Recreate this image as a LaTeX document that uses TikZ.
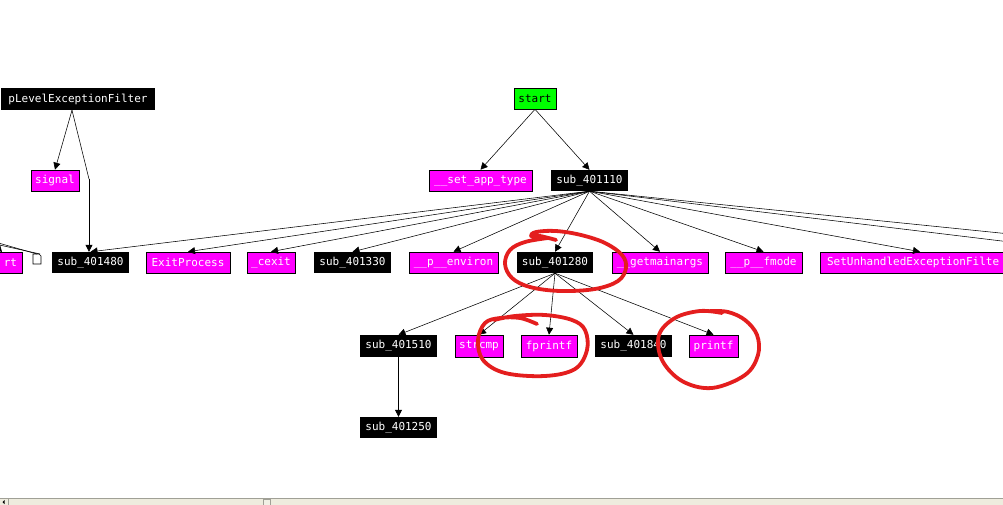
\documentclass[tikz,border=0pt]{standalone}
\usepackage{fontspec}
\newfontfamily\idafont{DejaVu Sans Mono}
\usetikzlibrary{arrows.meta}
\definecolor{idamag}{RGB}{255,0,255}
\definecolor{idagrn}{RGB}{0,255,0}
\definecolor{annot}{RGB}{228,30,30}
\definecolor{sbfill}{RGB}{238,236,222}
\definecolor{sbline}{RGB}{160,160,150}
\tikzset{
  fbox/.style={rectangle, inner sep=0pt, minimum height=21pt, font=\idafont\fontsize{11}{12}\selectfont},
  blk/.style={fbox, fill=black, text=white},
  mag/.style={fbox, fill=idamag, draw=black, line width=0.6pt, text=white},
  grn/.style={fbox, fill=idagrn, draw=black, line width=0.6pt, text=black},
  edge/.style={draw=black, line width=0.55pt, -{Triangle[length=7pt,width=7pt]}},
  plain/.style={draw=black, line width=0.55pt},
  redmark/.style={draw=annot, line width=3.8pt, line cap=round, line join=round},
}
\begin{document}
\begin{tikzpicture}[x=1pt,y=-1pt]
\useasboundingbox (0,0) rectangle (1003,505);
\clip (0,0) rectangle (1003,505);
\fill[white] (0,0) rectangle (1003,505);

% nodes
\node[blk, minimum width=154pt, minimum height=22pt] (plev) at (78,99) {pLevelExceptionFilter};
\node[mag, minimum width=48pt] (signal) at (55,180.5) {signal};
\node[grn, minimum width=42pt] (start) at (535,98.5) {start};
\node[mag, minimum width=103pt] (sat) at (480.5,180.5) {\_\_set\_app\_type};
\node[blk, minimum width=77pt] (s110) at (589.5,180.5) {sub\_401110};

\node[mag, minimum width=30pt, text width=20pt, align=right] (rt) at (7,262.5) {rt};
\node[blk, minimum width=77pt] (s480) at (90.5,262.5) {sub\_401480};
\node[mag, minimum width=84pt] (exitp) at (188,262.5) {ExitProcess};
\node[mag, minimum width=48pt] (cexit) at (271,262.5) {\_cexit};
\node[blk, minimum width=77pt] (s330) at (352.5,262.5) {sub\_401330};
\node[mag, minimum width=89pt] (env) at (453.5,262.5) {\_\_p\_\_environ};
\node[blk, minimum width=76pt] (s280) at (555,262.5) {sub\_401280};
\node[mag, minimum width=96pt] (gma) at (660,262.5) {\_\_getmainargs};
\node[mag, minimum width=77pt] (fmode) at (763.5,262.5) {\_\_p\_\_fmode};
\node[mag, minimum width=200pt, text width=186pt, align=left] (sef) at (920,262.5) {SetUnhandledExceptionFilte};

\node[blk, minimum width=77pt, minimum height=22pt] (s510) at (398.5,346) {sub\_401510};
\node[mag, minimum width=48pt, minimum height=22pt] (strcmp) at (479,346) {strcmp};
\node[mag, minimum width=56pt, minimum height=22pt] (fprintf) at (549,346) {fprintf};
\node[blk, minimum width=77pt, minimum height=22pt] (s840) at (633.5,346) {sub\_401840};
\node[mag, minimum width=49pt, minimum height=22pt] (printf) at (713.5,346) {printf};
\node[blk, minimum width=77pt] (s250) at (398.5,427.5) {sub\_401250};

% small document icon
\draw[black, fill=white, line width=0.55pt] (33,254) -- (39,254) -- (41,256) -- (41,264) -- (33,264) -- cycle;
\coordinate (doc) at (37,254);

% coordinates for free ends
\coordinate (bend) at (89,179);
\coordinate (offR1) at (1010,234);
\coordinate (offR2) at (1010,242);
\coordinate (offL1) at (-5,242);
\coordinate (offL2) at (-5,244);

% edges
\draw[edge] ([xshift=-6pt]plev.south) -- (signal.north);
\draw[plain] ([xshift=-6pt]plev.south) -- (bend);
\draw[edge] (bend) -- (s480.north -| bend);
\draw[edge] (start.south) -- (sat.north);
\draw[edge] (start.south) -- (s110.north);

\foreach \t in {s480,exitp,cexit,s330,env,s280,gma,fmode,sef}
  \draw[edge] (s110.south) -- (\t.north);
\draw[plain] (s110.south) -- (offR1);
\draw[plain] (s110.south) -- (offR2);

\draw[plain] (offL1) -- (doc);
\draw[plain] (offL2) -- (40,254);
\draw[edge] (-8,241) -- (2,252);

\foreach \t in {s510,strcmp,fprintf,s840,printf}
  \draw[edge] (s280.south) -- (\t.north);
\draw[edge] (s510.south) -- (s250.north);

% red hand-drawn annotations
\draw[redmark] plot[smooth, tension=0.6] coordinates {(556,240) (540,236) (531,236) (536,232) (556,231) (581,235) (605,243) (622,255) (626,268) (618,281) (595,289) (560,291) (530,287) (512,278) (505,264) (510,250) (525,242) (548,238)};
\draw[redmark] plot[smooth, tension=0.6] coordinates {(537,324) (520,318) (500,318) (485,323) (478,340) (483,360) (505,373) (545,376) (575,369) (587,350) (585,330) (572,320) (545,315) (515,316) (494,320)};
\draw[redmark] plot[smooth, tension=0.6] coordinates {(710,311) (728,312) (745,320) (757,335) (758,355) (745,375) (712,388) (682,381) (662,360) (659,335) (675,318) (700,311) (722,313)};

% bottom scrollbar
\fill[sbfill] (0,498) rectangle (1003,505);
\draw[sbline, line width=1pt] (0,498) -- (1003,498);
\draw[sbline, line width=0.6pt] (8,498.5) -- (8,505);
\draw[sbline, line width=0.6pt, fill=sbfill!80!white] (263,499) rectangle (270,506);
\fill[black] (2.5,502) -- (4.5,500) -- (4.5,504) -- cycle;
\end{tikzpicture}
\end{document}
